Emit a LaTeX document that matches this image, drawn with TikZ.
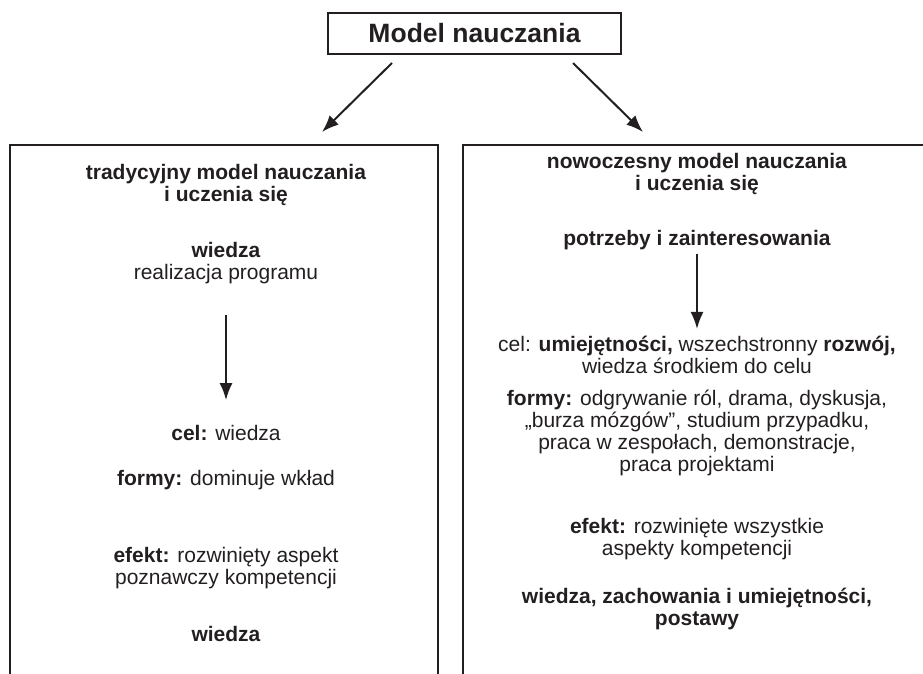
\documentclass[tikz,border=0pt]{standalone}
\usepackage{fontspec}
\setmainfont{Liberation Sans}
\usetikzlibrary{arrows.meta}
\definecolor{ink}{HTML}{231F20}
\tikzset{
	txt/.style = {text = ink, align = center, inner sep = 0pt, font = \fontsize{21}{22}\selectfont},
	arr/.style = {-{Latex[length = 17pt, width = 13pt]}, line width = 2pt, draw = ink},
	frame/.style = {line width = 1.4pt, draw = ink}
}
\begin{document}
\begin{tikzpicture}[x = 1pt, y = -1pt]
	\useasboundingbox (0,0) rectangle (923,674);
	
	\node [frame, minimum width = 293pt, minimum height = 41pt, text = ink, font = \bfseries\fontsize{26.5}{28}\selectfont] (model) at (474.5, 33.5) {Model nauczania};
	
	\coordinate (lfrom) at (392, 63);
	\coordinate (lto) at (322, 132);
	\coordinate (rfrom) at (573, 63);
	\coordinate (rto) at (643, 132);
	\draw [arr] (lfrom) -- (lto);
	\draw [arr] (rfrom) -- (rto);
	
	\draw [frame] (10, 680) |- (438, 145) -- (438, 680);
	\draw [frame] (463, 680) |- (930, 145);
	
	\node [txt] (ltitle) at (226, 185) {\textbf{tradycyjny model nauczania}\\ \textbf{i uczenia się}};
	\node [txt] (lbase) at (226, 263) {\textbf{wiedza}\\ realizacja programu};
	\node [txt] (lcel) at (226, 433) {\textbf{cel:} wiedza};
	\node [txt] (lformy) at (226, 480) {\textbf{formy:} dominuje wkład};
	\node [txt] (lefekt) at (226, 568) {\textbf{efekt:} rozwinięty aspekt\\ poznawczy kompetencji};
	\node [txt] (lwynik) at (226, 634) {\textbf{wiedza}};
	
	\draw [arr, shorten <= 31pt, shorten >= 25pt] (lbase) -- (lcel);
	
	\node [txt] (rtitle) at (697, 174) {\textbf{nowoczesny model nauczania}\\ \textbf{i uczenia się}};
	\node [txt] (rbase) at (697, 240) {\textbf{potrzeby i zainteresowania}};
	\node [txt] (rcel) at (697, 355) {cel: \textbf{umiejętności,} wszechstronny \textbf{rozwój,}\\ wiedza środkiem do celu};
	\node [txt] (rformy) at (697, 433) {\textbf{formy:} odgrywanie ról, drama, dyskusja,\\ „burza mózgów”, studium przypadku,\\ praca w zespołach, demonstracje,\\ praca projektami};
	\node [txt] (refekt) at (697, 539) {\textbf{efekt:} rozwinięte wszystkie\\ aspekty kompetencji};
	\node [txt] (rwynik) at (697, 609) {\textbf{wiedza, zachowania i umiejętności,}\\ \textbf{postawy}};
	
	\draw [arr, shorten <= 4pt, shorten >= 7pt] (rbase) -- (rcel);
	
\end{tikzpicture}
\end{document}
